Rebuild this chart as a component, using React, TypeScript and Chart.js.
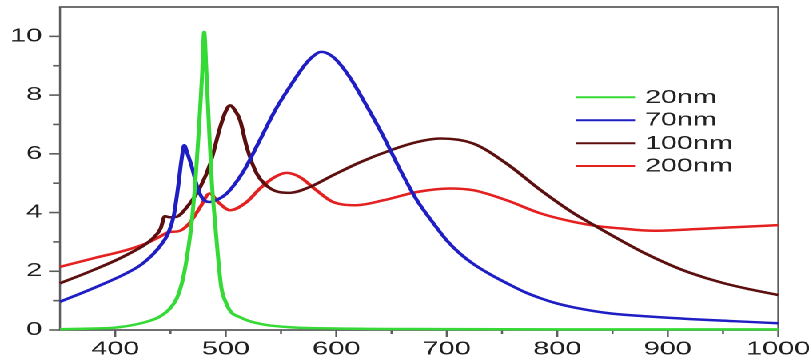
import React, { useEffect, useRef } from 'react';
import { Chart, registerables } from 'chart.js';
Chart.register(...registerables);

// ---- data ----
const xTickValues = [400, 500, 600, 700, 800, 900, 1000];
const yTickValues = [0, 2, 4, 6, 8, 10];
const seriesLabels = ['20nm', '70nm', '100nm', '200nm'];
const seriesColors = ['#36da36', '#1e1ec4', '#5c0f0f', '#e42020'];

const nm20X = [350, 380, 400, 420, 430, 440, 450, 456, 461, 465, 469, 473, 476, 478.5, 480.5, 482.5, 485, 487.5, 490, 493, 496, 500, 505, 512, 520, 535, 560, 600, 700, 800, 1000];
const nm20Y = [0.03, 0.05, 0.08, 0.2, 0.3, 0.45, 0.75, 1.1, 1.7, 2.5, 3.6, 5.3, 7.0, 8.6, 10.15, 8.8, 6.8, 5.0, 3.8, 2.5, 1.45, 0.95, 0.6, 0.45, 0.32, 0.18, 0.09, 0.05, 0.03, 0.02, 0.02];

const nm70X = [350, 380, 410, 425, 440, 448, 453, 457, 460, 462.5, 465, 469, 474, 479, 485, 493, 501, 516, 530, 545, 560, 572, 580, 586, 592, 600, 612, 628, 643, 658, 673, 688, 700, 712, 724, 740, 754, 770, 785, 800, 815, 845, 875, 917, 960, 1000];
const nm70Y = [0.96, 1.42, 1.93, 2.27, 2.83, 3.3, 3.9, 4.9, 5.8, 6.29, 6.05, 5.6, 4.9, 4.48, 4.36, 4.45, 4.65, 5.4, 6.4, 7.5, 8.4, 9.05, 9.35, 9.47, 9.42, 9.2, 8.62, 7.6, 6.57, 5.44, 4.42, 3.63, 3.05, 2.6, 2.25, 1.88, 1.6, 1.3, 1.08, 0.9, 0.77, 0.58, 0.48, 0.38, 0.3, 0.23];

const nm100X = [350, 380, 410, 434, 441, 445, 449, 455, 465, 477, 486, 495, 500, 504, 508, 513, 519, 528, 536, 546, 558, 576, 597, 622, 649, 673, 694, 724, 754, 785, 815, 836, 860, 880, 900, 920, 950, 975, 1000];
const nm100Y = [1.59, 2.04, 2.55, 3.12, 3.45, 3.88, 3.84, 3.85, 4.19, 4.87, 5.67, 6.91, 7.45, 7.65, 7.5, 7.14, 6.23, 5.33, 4.95, 4.72, 4.67, 4.87, 5.27, 5.72, 6.12, 6.4, 6.52, 6.35, 5.67, 4.76, 3.97, 3.51, 3.0, 2.6, 2.25, 1.95, 1.6, 1.38, 1.19];

const nm200X = [350, 380, 410, 428, 440, 449, 457, 467, 477, 485.5, 493, 504, 519, 531, 544, 555, 567, 582, 597, 618, 643, 673, 703, 724, 754, 785, 815, 836, 857, 887, 917, 960, 1000];
const nm200Y = [2.15, 2.44, 2.72, 2.95, 3.17, 3.34, 3.36, 3.63, 4.19, 4.65, 4.36, 4.08, 4.36, 4.82, 5.2, 5.35, 5.21, 4.76, 4.36, 4.25, 4.42, 4.7, 4.82, 4.76, 4.42, 3.97, 3.68, 3.54, 3.46, 3.38, 3.42, 3.5, 3.57];

const seriesX = [nm20X, nm70X, nm100X, nm200X];
const seriesY = [nm20Y, nm70Y, nm100Y, nm200Y];

// ---- layout (the original picture is horizontally stretched) ----
const W = 506;
const H = 360;
const S = 809 / W;
const FONT = '"Liberation Sans", Arial, sans-serif';
const FONT_SIZE = 18;

const framePlugin = {
  id: 'frame',
  beforeDatasetsDraw(chart: any) {
    const { ctx, chartArea: a, scales } = chart;
    const line = (x1: number, y1: number, x2: number, y2: number) => {
      ctx.beginPath();
      ctx.moveTo(x1, y1);
      ctx.lineTo(x2, y2);
      ctx.stroke();
    };
    ctx.save();
    ctx.strokeStyle = '#5c5c5c';
    ctx.lineWidth = 1.25;
    line(a.left, a.top, a.left, a.bottom);
    line(a.right, a.top, a.right, a.bottom);
    ctx.lineWidth = 1.7;
    line(a.left - 0.6, a.top, a.right + 0.6, a.top);
    line(a.left - 0.6, a.bottom, a.right + 0.6, a.bottom);
    // x tick marks
    ctx.lineWidth = 1.25;
    for (let v = 400; v <= 1000; v += 50) {
      const px = scales.x.getPixelForValue(v);
      const major = v % 100 === 0;
      line(px, a.bottom, px, a.bottom + (major ? 7 : 4));
    }
    // y tick marks
    ctx.lineWidth = 1.6;
    for (let v = 0; v <= 10; v += 1) {
      const py = scales.y.getPixelForValue(v);
      const major = v % 2 === 0;
      line(a.left - (major ? 6.9 : 4.4), py, a.left, py);
    }
    ctx.restore();
  },
};

const legendX1 = 360.3;
const legendX2 = 397.2;
const legendTextX = 403.4;
const legendRows = [97.3, 120.2, 143.3, 166];

const legendPlugin = {
  id: 'customLegend',
  afterDatasetsDraw(chart: any) {
    const { ctx } = chart;
    ctx.save();
    chart.data.datasets.forEach((ds: any, i: number) => {
      const y = legendRows[i];
      ctx.strokeStyle = ds.borderColor;
      ctx.lineWidth = 2;
      ctx.beginPath();
      ctx.moveTo(legendX1, y);
      ctx.lineTo(legendX2, y);
      ctx.stroke();
      ctx.fillStyle = '#222';
      ctx.font = `${FONT_SIZE}px ${FONT}`;
      ctx.textAlign = 'left';
      ctx.textBaseline = 'middle';
      ctx.fillText(ds.label, legendTextX, y + 0.5);
    });
    ctx.restore();
  },
};

export default function App() {
  const ref = useRef<HTMLCanvasElement | null>(null);
  useEffect(() => {
    if (!ref.current) return;
    const datasets = seriesLabels.map((label, i) => ({
      label,
      data: seriesX[i].map((x, j) => ({ x, y: seriesY[i][j] })),
      borderColor: seriesColors[i],
      backgroundColor: seriesColors[i],
      borderWidth: 2.5,
      pointRadius: 0,
      cubicInterpolationMode: 'monotone' as const,
      fill: false,
      clip: false as const,
    }));
    const chart = new Chart(ref.current, {
      type: 'line',
      data: { datasets },
      plugins: [framePlugin, legendPlugin],
      options: {
        responsive: false,
        animation: false,
        devicePixelRatio: 2,
        events: [],
        layout: { padding: { left: 0, right: W - 778.3 / S, top: 7, bottom: 0 } },
        plugins: { legend: { display: false }, tooltip: { enabled: false } },
        scales: {
          x: {
            type: 'linear',
            min: 350,
            max: 1000,
            grid: { display: false, drawTicks: false },
            border: { display: false },
            ticks: {
              padding: 8.5,
              color: '#1e1e1e',
              font: { family: FONT, size: FONT_SIZE },
              callback: (v: any) => String(v),
            },
            afterBuildTicks: (s: any) => {
              s.ticks = xTickValues.map((value) => ({ value }));
            },
            afterFit: (s: any) => {
              s.height = 30;
              s.paddingLeft = 0;
              s.paddingRight = 0;
            },
          },
          y: {
            type: 'linear',
            min: 0,
            max: 11,
            grid: { display: false, drawTicks: false },
            border: { display: false },
            ticks: {
              padding: 11.2,
              color: '#1e1e1e',
              font: { family: FONT, size: FONT_SIZE },
              callback: (v: any) => String(v),
            },
            afterBuildTicks: (s: any) => {
              s.ticks = yTickValues.map((value) => ({ value }));
            },
            afterFit: (s: any) => {
              s.width = 60 / S;
              s.paddingTop = 0;
              s.paddingBottom = 0;
            },
          },
        },
      },
    });
    return () => chart.destroy();
  }, []);
  return (
    <div
      style={{
        position: 'absolute',
        left: 0,
        top: 0,
        width: W,
        height: H,
        transform: `scaleX(${S})`,
        transformOrigin: '0 0',
        background: '#fff',
      }}
    >
      <canvas ref={ref} width={W} height={H} style={{ width: W, height: H, display: 'block' }} />
    </div>
  );
}
